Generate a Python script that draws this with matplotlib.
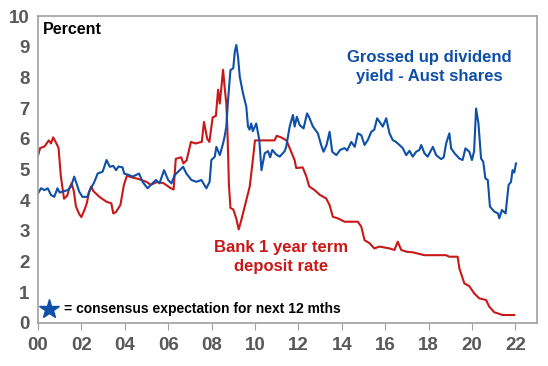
import matplotlib.pyplot as plt

plt.rcParams['font.family'] = ['Liberation Sans', 'DejaVu Sans']

# Years since 2000
deposit_t = [0.0, 0.1, 0.3, 0.5, 0.6, 0.7, 0.85, 0.95, 1.05, 1.2, 1.35, 1.45, 1.55, 1.65,
             1.75, 1.9, 2.0, 2.15, 2.25, 2.35, 2.45, 2.55, 2.85, 3.16, 3.38, 3.47, 3.6,
             3.8, 3.96, 4.1, 4.3, 4.6, 5.0, 5.2, 5.5, 5.8, 6.1, 6.25, 6.35, 6.6, 6.7,
             6.85, 7.05, 7.25, 7.55, 7.65, 7.8, 7.9, 8.05, 8.2, 8.3, 8.38, 8.53, 8.6,
             8.68, 8.73, 8.8, 8.87, 9.0, 9.14, 9.25, 9.37, 9.6, 9.76, 9.9, 10.0, 10.5,
             10.9, 11.0, 11.2, 11.45, 11.6, 11.83, 11.9, 12.2, 12.37, 12.5, 12.75, 13.0,
             13.28, 13.44, 13.59, 13.82, 14.13, 14.74, 14.9, 15.05, 15.28, 15.5, 15.74,
             16.2, 16.43, 16.58, 16.74, 17.0, 17.3, 17.8, 18.8, 18.96, 19.34, 19.42,
             19.65, 19.88, 20.1, 20.34, 20.65, 20.8, 21.03, 21.25, 21.41, 21.95]
deposit_v = [5.45, 5.7, 5.75, 5.95, 5.85, 6.05, 5.85, 5.7, 4.8, 4.05, 4.15, 4.4, 4.55, 4.3,
             3.8, 3.55, 3.45, 3.7, 3.9, 4.25, 4.45, 4.3, 4.1, 3.95, 3.9, 3.57, 3.62,
             3.85, 4.5, 4.8, 4.75, 4.7, 4.6, 4.5, 4.6, 4.55, 4.4, 4.35, 5.35, 5.4, 5.2,
             5.3, 5.9, 5.85, 5.9, 6.55, 6.0, 5.9, 6.7, 6.75, 7.6, 7.15, 8.25, 7.7,
             7.15, 6.3, 4.5, 3.75, 3.7, 3.4, 3.05, 3.35, 4.0, 4.45, 5.3, 5.95, 5.95,
             5.95, 6.1, 6.05, 5.95, 5.7, 5.3, 5.05, 5.07, 4.77, 4.45, 4.33, 4.17,
             4.06, 3.84, 3.46, 3.41, 3.3, 3.3, 3.14, 2.7, 2.6, 2.43, 2.49,
             2.43, 2.38, 2.65, 2.38, 2.32, 2.3, 2.21, 2.21, 2.16, 2.16, 1.78,
             1.29, 1.2, 0.97, 0.8, 0.75, 0.53, 0.35, 0.3, 0.26, 0.26]

yield_t = [0.0, 0.14, 0.3, 0.45, 0.6, 0.75, 0.9, 1.0, 1.13, 1.37, 1.52, 1.67, 1.75, 1.9,
           2.05, 2.28, 2.36, 2.6, 2.75, 2.98, 3.16, 3.31, 3.47, 3.6, 3.71, 3.9, 3.97,
           4.2, 4.36, 4.66, 4.82, 5.05, 5.2, 5.43, 5.6, 5.81, 6.0, 6.15, 6.3, 6.46,
           6.69, 6.84, 7.07, 7.3, 7.53, 7.76, 7.91, 7.99, 8.15, 8.22, 8.38, 8.53, 8.6,
           8.68, 8.76, 8.87, 9.0, 9.07, 9.14, 9.22, 9.3, 9.45, 9.6, 9.68, 9.75, 9.83,
           9.9, 10.06, 10.2, 10.3, 10.45, 10.6, 10.7, 10.8, 10.96, 11.14, 11.37, 11.44,
           11.6, 11.75, 11.83, 11.93, 12.06, 12.24, 12.4, 12.5, 12.67, 12.9, 13.05,
           13.16, 13.3, 13.44, 13.56, 13.75, 13.93, 14.13, 14.25, 14.44, 14.6, 14.74,
           14.9, 15.05, 15.2, 15.36, 15.5, 15.63, 15.74, 15.89, 16.05, 16.2, 16.35,
           16.5, 16.66, 16.81, 16.97, 17.12, 17.27, 17.43, 17.58, 17.66, 17.81, 17.96,
           18.2, 18.35, 18.58, 18.7, 18.81, 18.96, 19.04, 19.2, 19.42, 19.57, 19.7,
           19.88, 20.0, 20.1, 20.19, 20.3, 20.42, 20.52, 20.62, 20.73, 20.83, 21.03,
           21.2, 21.26, 21.38, 21.55, 21.69, 21.8, 21.87, 21.95, 22.03]
yield_v = [4.22, 4.39, 4.33, 4.39, 4.17, 4.11, 4.39, 4.25, 4.28, 4.33, 4.44, 4.77, 4.6, 4.28,
           4.11, 4.11, 4.28, 4.6, 4.87, 4.93, 5.31, 5.09, 5.12, 4.98, 5.1, 5.07, 4.87,
           4.82, 4.77, 4.87, 4.6, 4.39, 4.5, 4.66, 4.55, 4.98, 4.66, 4.55, 4.82, 4.93,
           5.09, 4.87, 4.66, 4.6, 4.66, 4.39, 4.6, 5.31, 5.42, 5.74, 5.47, 5.85, 6.07,
           6.4, 7.26, 8.24, 8.3, 8.84, 9.06, 8.67, 8.02, 7.48, 7.05, 6.4, 6.3, 6.5,
           6.25, 6.5, 5.96, 4.98, 5.53, 5.6, 5.4, 5.64, 5.5, 5.42, 5.6, 5.74,
           6.4, 6.78, 6.4, 6.72, 6.45, 6.34, 6.83, 6.7, 6.4, 6.18, 5.8,
           5.58, 5.8, 6.23, 5.58, 5.47, 5.64, 5.7, 5.62, 5.9, 5.74, 6.18,
           6.12, 5.8, 5.96, 6.23, 6.3, 6.67, 6.56, 6.4, 6.67, 6.18, 5.96,
           5.9, 5.8, 5.7, 5.47, 5.61, 5.42, 5.58, 5.64, 5.8, 5.53, 5.42,
           5.74, 5.47, 5.34, 5.4, 5.85, 6.18, 5.69, 5.53, 5.36, 5.31, 5.69,
           5.58, 5.31, 5.6, 6.99, 6.5, 5.36, 5.26, 4.71, 4.66, 3.79, 3.63,
           3.57, 3.41, 3.68, 3.57, 4.5, 4.6, 4.98, 4.9, 5.2]

x_ticks = list(range(0, 23, 2))
x_labels = ['%02d' % t for t in x_ticks]

BLUE = '#0e4fa8'
RED = '#c81818'
GREY = '#a0a0a0'

fig = plt.figure(figsize=(5.48, 3.66), dpi=100)
ax = fig.add_axes([0.0693, 0.1175, 0.9107, 0.8385])

ax.plot(deposit_t, deposit_v, color=RED, lw=1.5)
ax.plot(yield_t, yield_v, color=BLUE, lw=1.5)

ax.set_xlim(0, 23)
ax.set_ylim(0, 10)
ax.set_xticks(x_ticks)
ax.set_xticklabels(x_labels)
ax.set_yticks(range(0, 11))

for s in ax.spines.values():
    s.set_color(GREY)
    s.set_linewidth(1.2)
ax.tick_params(axis='x', direction='out', length=5, color=GREY, pad=5,
               labelsize=13.5, labelcolor='#595959')
ax.tick_params(axis='y', length=0, pad=6, labelsize=13.5, labelcolor='#595959')
for lab in ax.get_xticklabels() + ax.get_yticklabels():
    lab.set_fontweight('bold')

ax.text(0.01, 0.955, 'Percent', transform=ax.transAxes, fontsize=11.5,
        fontweight='bold', color='black', va='center', ha='left')
ax.text(0.785, 0.835, 'Grossed up dividend\nyield - Aust shares', transform=ax.transAxes,
        fontsize=12, fontweight='bold', color=BLUE, ha='center', va='center',
        linespacing=1.3)
ax.text(0.487, 0.215, 'Bank 1 year term\ndeposit rate', transform=ax.transAxes,
        fontsize=12, fontweight='bold', color=RED, ha='center', va='center',
        linespacing=1.3)
ax.plot([0.5], [0.45], marker='*', color=BLUE, markersize=15, clip_on=False)
ax.text(1.2, 0.45, '= consensus expectation for next 12 mths', fontsize=10,
        fontweight='bold', color='black', ha='left', va='center')

fig.savefig('out.png', dpi=100)
